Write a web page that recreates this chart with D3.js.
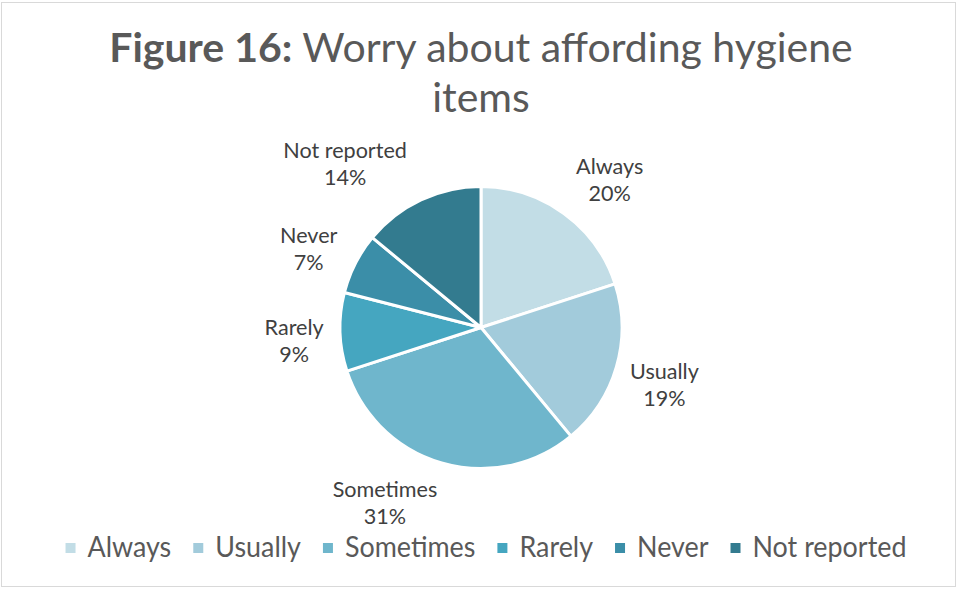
<!DOCTYPE html>
<html>
<head>
<meta charset="utf-8">
<script src="https://cdn.jsdelivr.net/npm/d3@7"></script>
<style>
  html, body { margin: 0; padding: 0; background: #ffffff; }
  svg { display: block; }
  text { font-family: Lato, "Open Sans", sans-serif; }
</style>
</head>
<body>
<svg id="chart" width="958" height="590"></svg>
<script>
// Survey responses: worry about affording hygiene items
const categories = ["Always", "Usually", "Sometimes", "Rarely", "Never", "Not reported"];
const percents = [20, 19, 31, 9, 7, 14];
const colors = ["#c2dde6", "#a2cbdb", "#6fb6cc", "#45a6c0", "#3b8ea8", "#337b8f"];

// Small offsets that keep each data label clear of its neighbours
const labelNudge = {
  "Always": [17, 7], "Usually": [1, 5], "Sometimes": [-43, -6],
  "Rarely": [3, 9], "Never": [-3, 9], "Not reported": [-55, 9]
};

const W = 958, H = 590;
const cx = 481, cy = 327.5, R = 141;

const svg = d3.select("#chart");

// chart frame
svg.append("rect")
  .attr("x", 1.5).attr("y", 2.5).attr("width", W - 4).attr("height", H - 6)
  .attr("fill", "#ffffff").attr("stroke", "#d9d9d9").attr("stroke-width", 1);

function squeeze(sel, k) {
  sel.each(function () {
    const w = this.getComputedTextLength();
    d3.select(this).attr("textLength", w * k).attr("lengthAdjust", "spacingAndGlyphs");
  });
}

// title: bold figure number followed by the plain heading, centred as one line
const titleG = svg.append("g");
const tBold = titleG.append("text")
  .attr("y", 62).attr("font-size", 41).attr("font-weight", "bold").attr("fill", "#595959")
  .text("Figure 16:");
const tRest = titleG.append("text")
  .attr("y", 62).attr("font-size", 41).attr("fill", "#595959")
  .text("Worry about affording hygiene");
const wBold = tBold.node().getComputedTextLength();
const wRest = tRest.node().getComputedTextLength();
const space = 10;
const x0 = cx - (wBold + space + wRest) / 2;
tBold.attr("x", x0);
tRest.attr("x", x0 + wBold + space);
svg.append("text")
  .attr("x", cx).attr("y", 112)
  .attr("text-anchor", "middle")
  .attr("font-size", 41).attr("fill", "#595959")
  .text("items");

// pie
const data = categories.map((c, i) => ({ name: c, value: percents[i], color: colors[i] }));
const pie = d3.pie().value(d => d.value).sort(null);
const arcs = pie(data);
const arc = d3.arc().innerRadius(0).outerRadius(R);
const labelArc = d3.arc().innerRadius(190).outerRadius(190);

const g = svg.append("g").attr("transform", `translate(${cx},${cy})`);
g.selectAll("path.slice")
  .data(arcs)
  .join("path")
  .attr("class", "slice")
  .attr("d", arc)
  .attr("fill", d => d.data.color)
  .attr("stroke", "#ffffff")
  .attr("stroke-width", 3)
  .attr("stroke-linejoin", "round");

// data labels: category name and percentage
const labels = g.selectAll("g.lbl")
  .data(arcs)
  .join("g")
  .attr("class", "lbl")
  .attr("transform", d => {
    const [x, y] = labelArc.centroid(d);
    const [dx, dy] = labelNudge[d.data.name];
    return `translate(${x + dx},${y + dy})`;
  });
labels.append("text")
  .attr("y", -7)
  .attr("text-anchor", "middle")
  .attr("font-size", 22).attr("fill", "#404040")
  .text(d => d.data.name)
  .call(squeeze, 0.98);
labels.append("text")
  .attr("y", 20)
  .attr("text-anchor", "middle")
  .attr("font-size", 22).attr("fill", "#404040")
  .text(d => d.data.value + "%")
  .call(squeeze, 0.98);

// legend
const legend = svg.append("g");
const items = legend.selectAll("g.item")
  .data(data)
  .join("g")
  .attr("class", "item");
items.append("rect")
  .attr("width", 10).attr("height", 10)
  .attr("y", -14)
  .attr("fill", d => d.color);
items.append("text")
  .attr("x", 22)
  .attr("font-size", 28).attr("fill", "#595959")
  .text(d => d.name)
  .call(squeeze, 0.96);

let xpos = 0;
const gap = 22;
items.each(function () {
  const t = d3.select(this).select("text").node();
  const w = +t.getAttribute("textLength");
  d3.select(this).attr("transform", `translate(${xpos},0)`);
  xpos += 22 + w + gap;
});
const total = xpos - gap;
legend.attr("transform", `translate(${cx + 5 - total / 2},557)`);
</script>
</body>
</html>
